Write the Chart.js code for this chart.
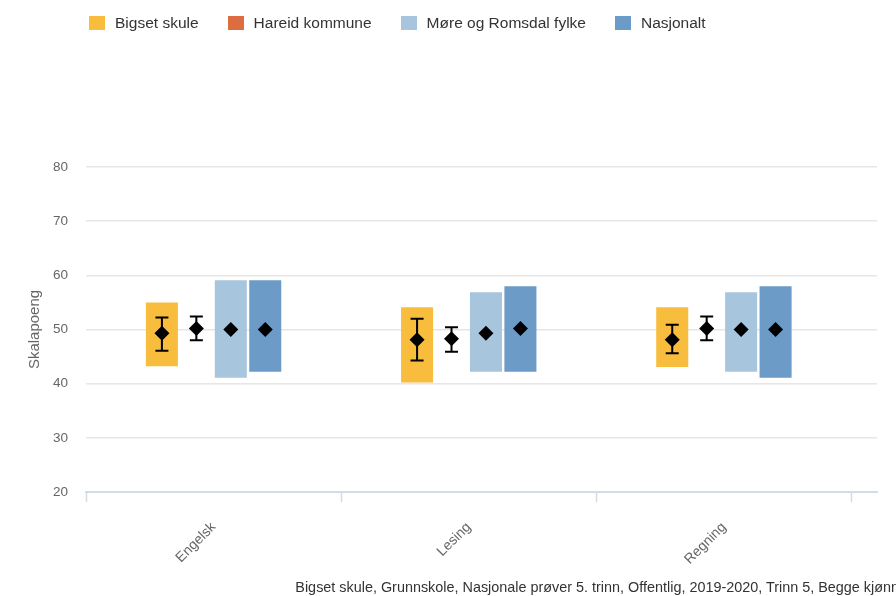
<!DOCTYPE html>
<html>
<head>
<meta charset="utf-8">
<title>Skalapoeng</title>
<script src="https://cdn.jsdelivr.net/npm/chart.js@4.4.1/dist/chart.umd.min.js"></script>
<style>
    html, body { margin: 0; padding: 0; background: #fff; }
    #wrap { position: relative; width: 896px; height: 596px; overflow: hidden; }
    #chart { position: absolute; left: 0; top: 0; }
    #legend {
        position: absolute; left: 89px; top: 16px; display: flex;
        font-family: "Liberation Sans", Arial, sans-serif; font-size: 15.5px; color: #333;
    }
    .legend-item { display: flex; align-items: center; margin-right: 29px; height: 14px; }
    .legend-box { width: 16px; height: 14px; margin-right: 10px; }
    #footer {
        position: absolute; right: -3px; top: 579px; white-space: nowrap;
        font-family: "Liberation Sans", Arial, sans-serif; font-size: 14.4px; color: #333;
    }
</style>
</head>
<body>
<div id="wrap">
    <canvas id="chart" width="896" height="596"></canvas>
    <div id="legend"></div>
    <div id="footer"></div>
</div>
<script>
/* ---- Data ---- */
const categories = ['Engelsk', 'Lesing', 'Regning'];
const seriesNames = ['Bigset skule', 'Hareid kommune', 'Møre og Romsdal fylke', 'Nasjonalt'];
const seriesColors = ['#f8bd3c', '#dc6d40', '#a8c5de', '#6b9bc6'];

// spread (low, high) of each series
const bigsetRange = [[43.2, 55.0], [40.2, 54.1], [43.1, 54.1]];
const hareidRange = [null, null, null];
const moreRange = [[41.1, 59.1], [42.2, 56.9], [42.2, 56.9]];
const nasjonaltRange = [[42.2, 59.1], [42.2, 58.0], [41.1, 58.0]];

// average (diamonds)
const bigsetMean = [49.3, 48.1, 48.1];
const hareidMean = [50.2, 48.3, 50.2];
const moreMean = [50.0, 49.3, 50.0];
const nasjonaltMean = [50.0, 50.2, 50.0];

// confidence interval (error bars)
const bigsetError = [[46.1, 52.2], [44.3, 52.0], [45.6, 50.9]];
const hareidError = [[48.0, 52.4], [45.9, 50.4], [48.0, 52.4]];

const yTicks = [20, 30, 40, 50, 60, 70, 80];
const yTitle = 'Skalapoeng';
const footerText = 'Bigset skule, Grunnskole, Nasjonale prøver 5. trinn, Offentlig, 2019-2020, Trinn 5, Begge kjønn';

const FONT = '"Liberation Sans", Arial, sans-serif';

/* ---- Legend + footer (html) ---- */
function renderLegend() {
    const el = document.getElementById('legend');
    el.innerHTML = seriesNames.map((name, i) => `
      <div class="legend-item">
        <span class="legend-box" style="background:${seriesColors[i]}"></span>
        <span>${name}</span>
      </div>`).join('');
    document.getElementById('footer').textContent = footerText;
}

/* ---- Diamonds + error bars ---- */
const markerPlugin = {
    id: 'markers',
    afterDatasetsDraw(chart) {
        const ctx = chart.ctx;
        const yScale = chart.scales.y;
        const means = [bigsetMean, hareidMean, moreMean, nasjonaltMean];
        const errors = [bigsetError, hareidError, null, null];

        means.forEach((vals, di) => {
            const meta = chart.getDatasetMeta(di);
            vals.forEach((v, i) => {
                const x = meta.data[i].x;
                ctx.save();
                ctx.strokeStyle = '#000';
                ctx.fillStyle = '#000';
                ctx.lineWidth = 2;

                if (errors[di]) {
                    const lo = yScale.getPixelForValue(errors[di][i][0]);
                    const hi = yScale.getPixelForValue(errors[di][i][1]);
                    ctx.beginPath();
                    ctx.moveTo(x, lo); ctx.lineTo(x, hi);
                    ctx.moveTo(x - 6.5, lo); ctx.lineTo(x + 6.5, lo);
                    ctx.moveTo(x - 6.5, hi); ctx.lineTo(x + 6.5, hi);
                    ctx.stroke();
                }

                const py = yScale.getPixelForValue(v);
                ctx.beginPath();
                ctx.moveTo(x, py - 7.5);
                ctx.lineTo(x + 7.5, py);
                ctx.lineTo(x, py + 7.5);
                ctx.lineTo(x - 7.5, py);
                ctx.closePath();
                ctx.fill();
                ctx.restore();
            });
        });
    }
};

document.addEventListener('DOMContentLoaded', () => {
    renderLegend();

    const ranges = [bigsetRange, hareidRange, moreRange, nasjonaltRange];

    new Chart(document.getElementById('chart'), {
        type: 'bar',
        data: {
            labels: categories,
            datasets: seriesNames.map((name, i) => ({
                label: name,
                data: ranges[i],
                backgroundColor: seriesColors[i],
                borderWidth: 0,
                categoryPercentage: 0.54,
                barPercentage: 0.93
            }))
        },
        options: {
            responsive: false,
            animation: false,
            layout: { padding: { top: 167, right: 19, bottom: 0, left: 0 } },
            scales: {
                x: {
                    // axis line runs a bit past the last category, as in the original
                    afterBuildTicks: (s) => { s._valueRange = 3.1; },
                    afterFit: (s) => { s.height = 104; },
                    grid: {
                        drawOnChartArea: false,
                        drawTicks: true,
                        tickLength: 10,
                        tickWidth: 1.5,
                        tickColor: '#d3dae8',
                        offset: true
                    },
                    border: { color: '#d3dae8', width: 2 },
                    ticks: {
                        color: '#666',
                        font: { family: FONT, size: 14 },
                        minRotation: 45,
                        maxRotation: 45,
                        padding: 17
                    }
                },
                y: {
                    min: yTicks[0],
                    max: yTicks[yTicks.length - 1],
                    afterFit: (s) => { s.width = 86; },
                    afterBuildTicks: (s) => { s.ticks = yTicks.map(v => ({ value: v })); },
                    grid: { color: '#e6e6e6', lineWidth: 1.5, drawTicks: false },
                    border: { display: false },
                    ticks: {
                        color: '#666',
                        font: { family: FONT, size: 13.5 },
                        padding: 18
                    },
                    title: {
                        display: true,
                        text: yTitle,
                        color: '#666',
                        font: { family: FONT, size: 15 },
                        padding: { top: 26, bottom: 0 }
                    }
                }
            },
            plugins: {
                legend: { display: false },
                tooltip: { enabled: false }
            }
        },
        plugins: [markerPlugin]
    });
});
</script>
</body>
</html>
